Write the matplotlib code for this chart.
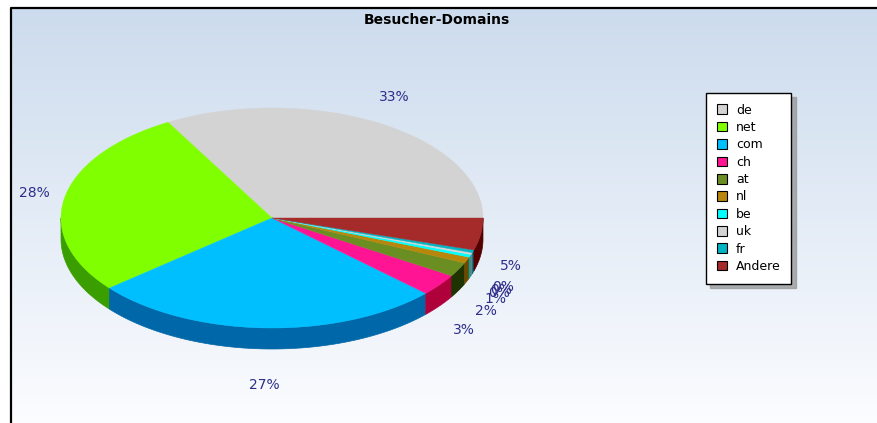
import matplotlib
matplotlib.use("Agg")
import matplotlib.pyplot as plt
import numpy as np
from matplotlib.patches import Polygon, Patch

# Besucher nach Top-Level-Domain (Anteile in %)
domains = ["de", "net", "com", "ch", "at", "nl", "be", "uk", "fr", "Andere"]
shares = [33.2, 27.8, 27.0, 3.2, 2.1, 0.9, 0.4, 0.3, 0.4, 4.7]
top_colors = ["#d3d3d3", "#80ff00", "#00bfff", "#ff1493", "#6b8e23",
              "#b8860b", "#00ffff", "#d3d3d3", "#00b4c4", "#a52a2a"]
side_colors = ["#8a8a8a", "#3a9e00", "#0068a8", "#b0003c", "#1e3300",
               "#6b4a00", "#00a0a0", "#808080", "#007080", "#520000"]

fig = plt.figure(figsize=(8.77, 4.23), dpi=100)
ax = fig.add_axes([0, 0, 1, 1])
ax.set_xlim(0, 877)
ax.set_ylim(423, 0)
ax.axis("off")

# background gradient
g = np.linspace(0, 1, 256)[:, None, None]
c_top = np.array([0.80, 0.86, 0.93])
c_bot = np.array([0.985, 0.99, 1.0])
img = c_top + (c_bot - c_top) * g
ax.imshow(img, extent=(11, 877, 423, 8), aspect="auto", zorder=0,
          interpolation="bicubic")
ax.plot([11, 11, 877], [423, 8, 8], color="black", lw=1.6, zorder=1)

ax.text(437, 20, "Besucher-Domains", ha="center", va="center",
        fontweight="bold", fontsize=10, color="black")

# pseudo 3d pie
cx, cy, rx, ry, depth = 272, 218, 211, 110, 21
bounds = np.cumsum([0] + shares) / sum(shares) * 2 * np.pi

def arc(a, b):
    n = max(3, int(np.degrees(b - a)) + 3)
    t = np.linspace(a, b, n)
    return np.column_stack([cx + rx * np.cos(t), cy - ry * np.sin(t)])

for i in range(len(shares)):
    a, b = bounds[i], bounds[i + 1]
    a2, b2 = max(a, np.pi), min(b, 2 * np.pi)
    if b2 > a2:
        pts = arc(a2, b2)
        low = pts[::-1] + [0, depth]
        ax.add_patch(Polygon(np.vstack([pts, low]), closed=True,
                             facecolor=side_colors[i], edgecolor=side_colors[i],
                             lw=0.5, zorder=2))

for i in range(len(shares)):
    a, b = bounds[i], bounds[i + 1]
    pts = np.vstack([[cx, cy], arc(a, b)])
    ax.add_patch(Polygon(pts, closed=True, facecolor=top_colors[i],
                         edgecolor=top_colors[i], lw=0.3, zorder=3))

for i, v in enumerate(shares):
    m = (bounds[i] + bounds[i + 1]) / 2
    lx = cx + (rx + 31) * np.cos(m)
    ly = cy - (ry + 30) * np.sin(m)
    if np.sin(m) < 0:
        ly += depth + 6
    ax.text(lx, ly, f"{v:.0f}%", ha="center", va="center",
            color="#2e2e8a", fontsize=10, zorder=4)

handles = [Patch(facecolor=c, edgecolor="black", linewidth=0.8) for c in top_colors]
leg = fig.legend(handles, domains, loc="upper left",
                 bbox_to_anchor=(706 / 877, 1 - 93 / 423),
                 frameon=True, fancybox=False,
                 shadow={"ox": 3, "oy": -3, "color": "#9a9a9a", "alpha": 0.8},
                 edgecolor="black", framealpha=1, fontsize=9,
                 handlelength=0.8, handleheight=0.8, handletextpad=0.75,
                 labelspacing=0.35, borderpad=0.85, borderaxespad=0)
leg.get_frame().set_linewidth(1.0)

fig.savefig("out.png", dpi=100)
